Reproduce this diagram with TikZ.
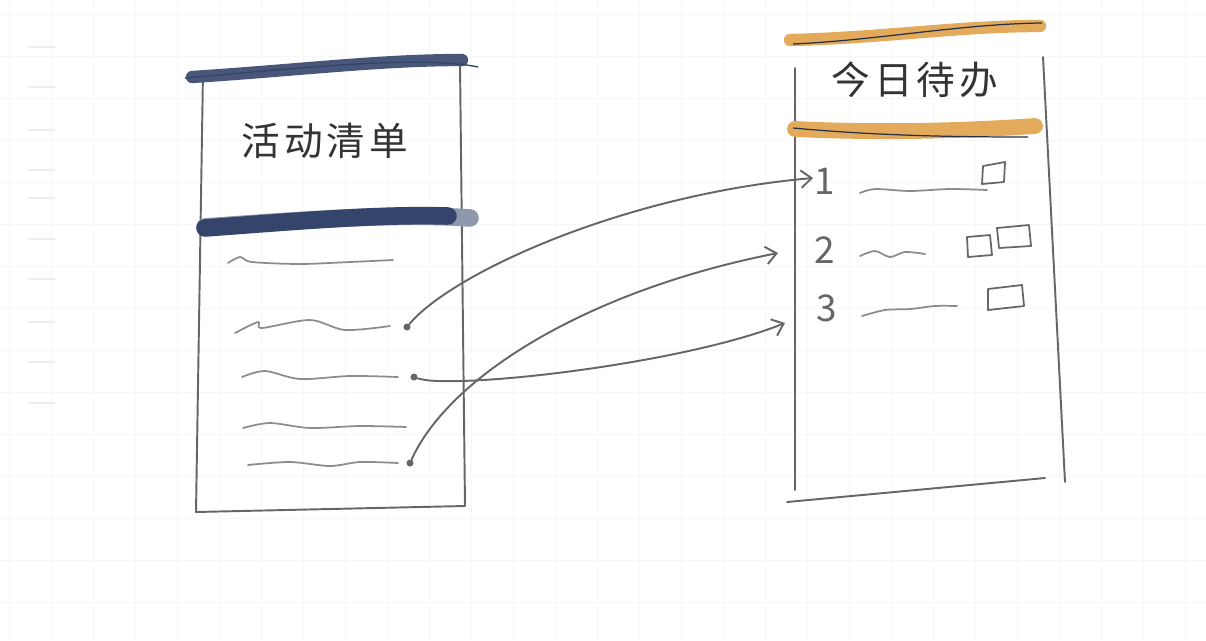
\documentclass[tikz,border=0pt]{standalone}
\usepackage{fontspec}
\newfontfamily\cjk[LetterSpace=10]{Noto Sans CJK SC}
\usetikzlibrary{arrows.meta}
\definecolor{ink}{HTML}{34446A}
\definecolor{ochre}{HTML}{E2AA5A}
\definecolor{pencil}{HTML}{666666}

\tikzset{
  gridline/.style={black!3,line width=0.4pt},
  margin/.style={black!7,line width=0.6pt},
  pen/.style={pencil,line width=1.1pt,line cap=round,line join=round},
  squiggle/.style={pencil!75,line width=1pt,line cap=round},
  brush/.style={line width=#1,line cap=round},
  link/.style={pen,-{Straight Barb[length=6pt,width=10pt]}},
  dot/.style={circle,fill=pencil,inner sep=0pt,minimum size=4pt},
  title/.style={font=\cjk\fontsize{22}{22}\selectfont,text=black!80},
  num/.style={font=\cjk\fontsize{21}{21}\selectfont,text=pencil},
  tick/.style={pen,line width=1pt}
}

\begin{document}
\begin{tikzpicture}[x=0.02cm,y=-0.02cm]
    \useasboundingbox (0,0) rectangle (1206,640);
    % Paper grid
    \foreach \gx in {9,51,...,1206} \draw[gridline] (\gx,0) -- (\gx,640);
    \foreach \gy in {14,56,...,640} \draw[gridline] (0,\gy) -- (1206,\gy);
    \foreach \my in {47,87,130,170,198,239,279,322,362,403} \draw[margin] (28,\my) -- (55,\my);
    % Activity list
    \draw[pen] (203,72) -- (196,512) -- (465,506) -- (460,64);
    \draw[brush=7pt,ink!90] (192,77) .. controls (300,70) and (380,60) .. (462,60);
    \draw[ink,line width=0.8pt] (185,78) .. controls (300,68) and (420,55) .. (478,67);
    \node[title] (act) at (325,141) {活动清单};
    \draw[brush=10pt,ink!55] (205,227) .. controls (300,220) and (400,213) .. (470,218);
    \draw[brush=10pt,ink] (205,228) .. controls (300,221) and (380,214) .. (448,216);
    \draw[squiggle] plot[smooth] coordinates {(228,263) (240,257) (252,262) (300,264) (350,262) (393,260)};
    \draw[squiggle] plot[smooth] coordinates {(235,333) (258,322) (262,328) (310,320) (345,330) (390,326)};
    \draw[squiggle] plot[smooth] coordinates {(242,377) (265,371) (300,379) (350,376) (398,377)};
    \draw[squiggle] plot[smooth] coordinates {(243,428) (270,423) (310,428) (360,426) (406,427)};
    \draw[squiggle] plot[smooth] coordinates {(248,465) (290,462) (330,466) (360,462) (398,463)};
    \node[dot] (d1) at (407,327) {};
    \node[dot] (d2) at (414,377) {};
    \node[dot] (d3) at (410,463) {};
    % Today's to-do
    \draw[pen] (795,68) -- (795,490);
    \draw[pen] (1043,57) -- (1065,482);
    \draw[pen] (787,502) -- (1045,478);
    \draw[brush=7pt,ochre] (790,40) .. controls (880,38) and (960,26) .. (1040,26);
    \draw[ink!70!black,line width=0.7pt] (793,44) .. controls (880,40) and (960,24) .. (1042,23);
    \node[title] (today) at (915,80) {今日待办};
    \draw[brush=9pt,ochre] (795,129) .. controls (880,133) and (960,131) .. (1035,126);
    \draw[ink!70!black,line width=0.7pt] (793,128) .. controls (880,136) and (960,137) .. (1028,137);
    \node[num] (n1) at (825,181) {1};
    \node[num] (n2) at (825,250) {2};
    \node[num] (n3) at (827,308) {3};
    \draw[squiggle] plot[smooth] coordinates {(860,193) (875,189) (910,191) (950,189) (987,190)};
    \draw[squiggle] plot[smooth] coordinates {(860,256) (875,251) (890,257) (905,252) (925,254)};
    \draw[squiggle] plot[smooth] coordinates {(862,316) (885,310) (910,309) (935,306) (957,306)};
    \draw[tick] (983,166) -- (1005,162) -- (1004,182) -- (982,184) -- cycle;
    \draw[tick] (967,237) -- (990,235) -- (992,255) -- (968,257) -- cycle;
    \draw[tick] (997,228) -- (1029,225) -- (1031,246) -- (999,248) -- cycle;
    \draw[tick] (988,289) -- (1022,285) -- (1024,306) -- (988,310) -- cycle;
    % Links
    \coordinate (t1) at (813,178);
    \coordinate (t2) at (778,253);
    \coordinate (t3) at (785,323);
    \draw[link] (d1) .. controls (450,275) and (620,195) .. (t1);
    \draw[link] (d3) .. controls (450,375) and (590,290) .. (t2);
    \draw[link] (d2) .. controls (450,390) and (680,365) .. (t3);
\end{tikzpicture}
\end{document}
